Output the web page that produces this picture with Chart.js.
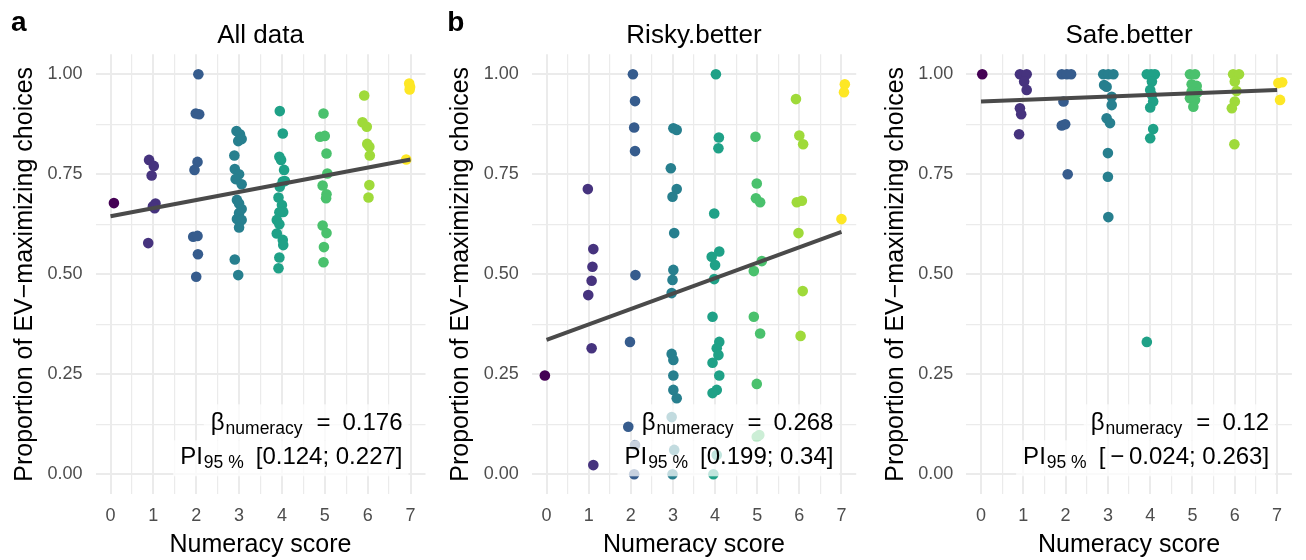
<!DOCTYPE html>
<html>
<head>
<meta charset="utf-8">
<script src="https://cdn.jsdelivr.net/npm/chart.js@4.4.1/dist/chart.umd.min.js"></script>
<style>
  html, body { margin: 0; padding: 0; background: #fff; }
  #wrap { position: relative; width: 1306px; height: 560px; }
  canvas { position: absolute; left: 0; top: 0; }
</style>
</head>
<body>
<div id="wrap">
  <canvas id="c1" width="1306" height="560"></canvas>
  <canvas id="c2" width="1306" height="560"></canvas>
  <canvas id="c3" width="1306" height="560"></canvas>
</div>
<script>
// tick labels / grid positions
const xTicks = [0, 1, 2, 3, 4, 5, 6, 7];
const yTicks = [0, 0.25, 0.5, 0.75, 1];

// viridis colours, one per numeracy score 0..7
const scoreColors = ['#440154', '#46337E', '#365C8D', '#277F8E', '#1FA187', '#4AC16D', '#9FDA3A', '#FDE725'];

// All data: jittered numeracy score and proportion of EV-maximizing choices
const allScore = [0.08,
  0.90, 1.01, 0.96, 1.05, 0.99, 1.03, 0.88,
  2.05, 1.99, 2.07, 2.03, 1.96, 1.93, 2.03, 2.04, 2.00,
  2.94, 3.02, 2.98, 3.06, 2.89, 2.90, 3.00, 2.92, 3.06, 2.95, 3.00, 3.06, 3.00, 2.95, 3.06, 3.00, 2.90, 2.98,
  3.95, 4.02, 3.94, 3.98, 4.05, 4.02, 3.95, 4.07, 3.92, 4.00, 4.03, 3.94, 3.88, 3.94, 3.88, 4.02, 4.03, 3.94, 3.92,
  4.97, 4.89, 5.00, 5.04, 5.06, 4.95, 5.04, 5.03, 4.95, 5.04, 4.98, 4.97,
  5.92, 5.88, 5.98, 5.99, 6.04, 6.05, 6.04, 6.02,
  6.97, 6.99, 6.98, 6.90];
const allProp = [0.678,
  0.786, 0.771, 0.747, 0.677, 0.670, 0.665, 0.578,
  1.000, 0.902, 0.900, 0.781, 0.761, 0.594, 0.596, 0.550, 0.494,
  0.858, 0.850, 0.833, 0.838, 0.797, 0.763, 0.750, 0.738, 0.725, 0.686, 0.677, 0.663, 0.653, 0.638, 0.636, 0.617, 0.537, 0.498,
  0.908, 0.852, 0.794, 0.786, 0.761, 0.732, 0.719, 0.733, 0.692, 0.673, 0.656, 0.655, 0.636, 0.625, 0.602, 0.586, 0.573, 0.542, 0.515,
  0.902, 0.844, 0.846, 0.802, 0.752, 0.722, 0.700, 0.690, 0.622, 0.603, 0.568, 0.530,
  0.947, 0.880, 0.869, 0.826, 0.819, 0.797, 0.723, 0.692,
  0.977, 0.968, 0.962, 0.787];

// Risky.better
const riskyScore = [-0.04,
  0.98, 1.11, 1.09, 1.07, 0.99, 1.07, 1.11,
  2.05, 2.10, 2.08, 2.10, 2.11, 1.98, 1.94, 2.10, 2.08,
  3.01, 3.09, 2.95, 3.09, 2.99, 3.03, 3.01, 2.99, 2.97, 2.97, 3.01, 3.01, 3.01, 3.09, 2.97, 3.03, 2.99,
  4.02, 4.09, 4.08, 3.98, 4.10, 3.92, 4.00, 3.98, 3.94, 4.10, 4.04, 4.08, 3.94, 4.10, 4.04, 3.94, 4.04, 3.96,
  4.96, 4.99, 4.97, 5.07, 5.11, 4.92, 4.92, 5.07, 4.99, 5.05, 4.99,
  5.92, 6.00, 6.09, 5.94, 6.06, 5.98, 6.08, 6.03,
  7.08, 7.06, 7.00];
const riskyProp = [0.247,
  0.713, 0.563, 0.519, 0.484, 0.448, 0.315, 0.023,
  1.000, 0.933, 0.867, 0.808, 0.498, 0.331, 0.119, 0.073, 0.000,
  0.865, 0.861, 0.765, 0.713, 0.694, 0.603, 0.511, 0.486, 0.453, 0.301, 0.286, 0.247, 0.211, 0.190, 0.143, 0.061, 0.000,
  1.000, 0.842, 0.815, 0.652, 0.557, 0.544, 0.523, 0.488, 0.394, 0.331, 0.315, 0.298, 0.279, 0.247, 0.211, 0.203, 0.048, 0.000,
  0.844, 0.727, 0.690, 0.680, 0.533, 0.508, 0.394, 0.352, 0.226, 0.098, 0.094,
  0.938, 0.847, 0.825, 0.680, 0.684, 0.603, 0.458, 0.346,
  0.975, 0.955, 0.638];

// Safe.better
const safeScore = [0.03,
  0.92, 1.08, 1.02, 1.08, 0.92, 0.95, 0.90,
  1.91, 2.03, 2.13, 1.95, 1.91, 1.99, 2.05,
  2.89, 3.01, 3.13, 2.91, 2.97, 3.09, 3.09, 2.97, 3.05, 3.00, 3.00, 3.01,
  3.92, 4.02, 4.11, 4.04, 4.00, 4.04, 4.07, 4.00, 4.07, 4.00, 3.92,
  4.94, 5.06, 4.98, 5.10, 4.98, 5.12, 4.94, 5.06, 5.02,
  5.96, 6.10, 6.00, 6.04, 6.00, 5.93, 5.99,
  7.03, 7.12, 7.07];
const safeProp = [1.000,
  1.000, 1.000, 0.982, 0.961, 0.915, 0.900, 0.850,
  1.000, 1.000, 1.000, 0.932, 0.872, 0.875, 0.750,
  1.000, 1.000, 1.000, 0.973, 0.969, 0.944, 0.923, 0.890, 0.878, 0.803, 0.744, 0.643,
  1.000, 1.000, 1.000, 0.982, 0.961, 0.948, 0.932, 0.917, 0.863, 0.840, 0.331,
  1.000, 1.000, 0.975, 0.971, 0.957, 0.955, 0.940, 0.936, 0.919,
  1.000, 1.000, 0.982, 0.958, 0.932, 0.915, 0.825,
  0.978, 0.980, 0.936];

// fitted regression line, at score 0 and 7
const fitX = [0, 7];
const allFit = [0.645, 0.787];
const riskyFit = [0.336, 0.606];
const safeFit = [0.932, 0.961];

const FONT = '"Liberation Sans", Arial, Helvetica, sans-serif';
Chart.defaults.font.family = FONT;

function toPoints(xs, ys) {
  return xs.map((v, i) => ({x: v, y: ys[i]}));
}

// draw one line of the estimate label: parts drawn left to right, right-aligned
function drawRow(ctx, parts, right, base, top, bottom) {
  let total = 0;
  parts.forEach(p => {
    ctx.font = p.size + 'px ' + FONT;
    p.w = ctx.measureText(p.t).width;
    total += p.w + (p.gap || 0);
  });
  let x = right - total;
  ctx.fillStyle = 'rgba(255,255,255,0.72)';
  ctx.fillRect(x - 7, top, total + 13, bottom - top);
  ctx.fillStyle = '#000';
  ctx.textBaseline = 'alphabetic';
  ctx.textAlign = 'left';
  parts.forEach(p => {
    ctx.font = p.size + 'px ' + FONT;
    ctx.fillText(p.t, x, base + (p.dy || 0));
    x += p.w + (p.gap || 0);
  });
}

const panelText = {
  id: 'panelText',
  afterDatasetsDraw(chart, args, o) {
    const ctx = chart.ctx;
    const xs = chart.scales.x, ys = chart.scales.y;
    const right = xs.getPixelForValue(7) - 8;
    const b1 = ys.getPixelForValue(0.11);
    const b2 = ys.getPixelForValue(0.025);
    ctx.save();
    drawRow(ctx, [
      {t: 'β', size: 24, gap: 1},
      {t: 'numeracy', size: 17.5, dy: 4, gap: 14},
      {t: '=', size: 24, gap: 12},
      {t: o.beta, size: 24}
    ], right, b1, b1 - 26, b1 + 10);
    drawRow(ctx, [
      {t: 'PI', size: 24, gap: 1},
      {t: '95 %', size: 17.5, dy: 4, gap: 12},
      {t: o.pi, size: 24}
    ], right, b2, b1 + 10, b2 + 12);
    ctx.restore();
  },
  afterDraw(chart, args, o) {
    const ctx = chart.ctx, a = chart.chartArea;
    ctx.save();
    ctx.fillStyle = '#000';
    ctx.textAlign = 'center';
    ctx.textBaseline = 'alphabetic';
    ctx.font = '26px ' + FONT;
    ctx.fillText(o.title, (a.left + a.right) / 2, 42.7);
    if (o.letter) {
      ctx.textAlign = 'left';
      ctx.font = 'bold 28px ' + FONT;
      ctx.fillText(o.letter, a.left - 84.5, 31);
    }
    ctx.restore();
  }
};

function makePanel(id, p) {
  new Chart(document.getElementById(id), {
    type: 'scatter',
    data: {
      datasets: [{
        type: 'line',
        data: toPoints(fitX, p.fit),
        borderColor: '#4a4a4a',
        borderWidth: 4,
        pointRadius: 0,
        order: 0
      }, {
        data: toPoints(p.score, p.prop),
        pointRadius: 5.3,
        pointBorderWidth: 0,
        pointBackgroundColor: c => scoreColors[Math.min(7, Math.max(0, Math.round(c.raw.x)))],
        order: 1
      }]
    },
    options: {
      responsive: false,
      devicePixelRatio: 1,
      animation: false,
      layout: {padding: {left: p.left - 86.5, right: 1306 - p.right, top: 54.3, bottom: 0}},
      plugins: {
        legend: {display: false},
        tooltip: {enabled: false},
        panelText: {title: p.title, letter: p.letter, beta: p.beta, pi: p.pi}
      },
      scales: {
        x: {
          type: 'linear', min: -0.35, max: 7.35,
          afterBuildTicks: s => { s.ticks = []; for (let v = 0; v <= 7; v += 0.5) s.ticks.push({value: v}); },
          afterFit: s => { s.height = 65.7; },
          border: {display: false},
          grid: {color: '#ebebeb', drawTicks: false,
                 lineWidth: c => (c.tick && Number.isInteger(c.tick.value)) ? 2 : 1.2},
          ticks: {padding: 11, color: '#4d4d4d', font: {size: 18},
                  callback: v => xTicks.includes(v) ? String(v) : ''},
          title: {display: true, text: 'Numeracy score', color: '#000', font: {size: 25}, padding: {top: 0, bottom: 0}}
        },
        y: {
          type: 'linear', min: -0.05, max: 1.05,
          afterBuildTicks: s => { s.ticks = []; for (let v = 0; v <= 8; v++) s.ticks.push({value: v / 8}); },
          afterFit: s => { s.width = 86.5; },
          border: {display: false},
          grid: {color: '#ebebeb', drawTicks: false,
                 lineWidth: c => (c.tick && yTicks.includes(c.tick.value)) ? 2 : 1.2},
          ticks: {padding: 13, color: '#4d4d4d', font: {size: 18},
                  callback: v => yTicks.includes(v) ? v.toFixed(2) : ''},
          title: {display: true, text: 'Proportion of EV\u2212maximizing choices', color: '#000', font: {size: 25}, padding: {top: 1, bottom: 0}}
        }
      }
    },
    plugins: [panelText]
  });
}

makePanel('c1', {title: 'All data', letter: 'a', left: 95.5, right: 425.5,
  score: allScore, prop: allProp, fit: allFit, beta: '0.176', pi: '[0.124; 0.227]'});
makePanel('c2', {title: 'Risky.better', letter: 'b', left: 531.8, right: 856.2,
  score: riskyScore, prop: riskyProp, fit: riskyFit, beta: '0.268', pi: '[0.199; 0.34]'});
makePanel('c3', {title: 'Safe.better', letter: '', left: 966.2, right: 1291.9,
  score: safeScore, prop: safeProp, fit: safeFit, beta: '0.12', pi: '[\u2009\u2212\u20090.024; 0.263]'});
</script>
</body>
</html>
